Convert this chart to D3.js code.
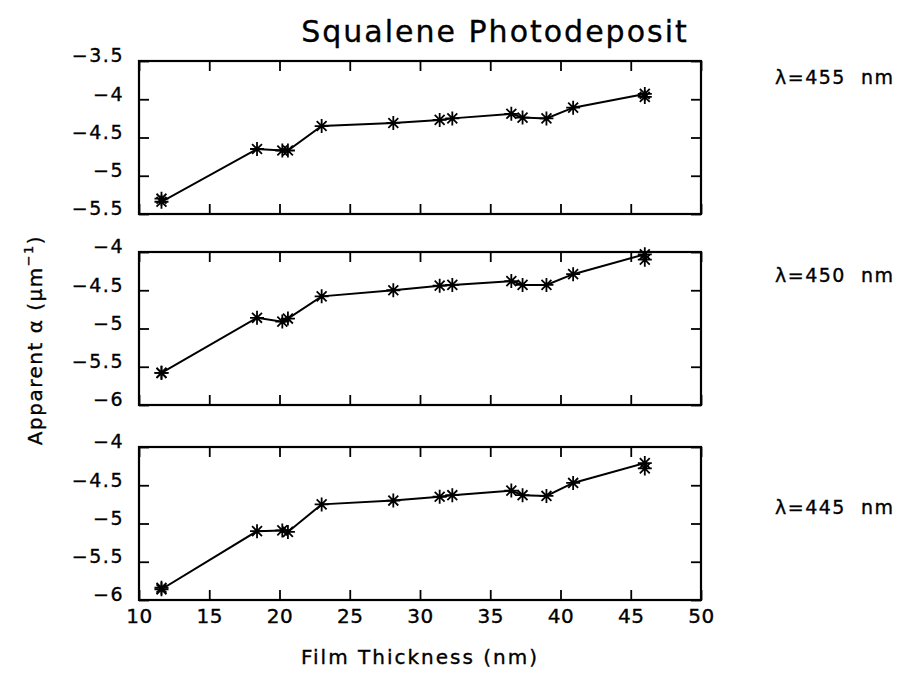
<!DOCTYPE html>
<meta charset="utf-8">
<script src="https://cdn.jsdelivr.net/npm/d3@7/dist/d3.min.js"></script>
<style>
    body { margin: 0; background: white; }
    text { font-family: "DejaVu Sans", sans-serif; fill: black; stroke: black; stroke-width: 0.35px; }
    .tick line { stroke: black; stroke-width: 1.8; }
    .domain { display: none; }
    .trace { fill: none; stroke: black; stroke-width: 2; }
    .star { fill: none; stroke: black; stroke-width: 1.8; }
</style>
<body>
<script>

    // film thickness (nm), shared by all three wavelengths
    var thickness = [11.6, 11.6, 18.4, 20.2, 20.6, 23.0, 28.1, 31.4, 32.3, 36.5, 37.3, 39.0, 40.9, 46.0, 46.0]

    // apparent alpha (um^-1) per wavelength
    var alpha455 = [-5.30, -5.34, -4.65, -4.67, -4.67, -4.35, -4.31, -4.27, -4.25, -4.19, -4.24, -4.25, -4.11, -3.93, -3.97]
    var alpha450 = [-5.58, -5.58, -4.86, -4.91, -4.87, -4.58, -4.50, -4.44, -4.43, -4.38, -4.43, -4.43, -4.29, -4.03, -4.10]
    var alpha445 = [-5.84, -5.86, -5.10, -5.09, -5.11, -4.75, -4.70, -4.65, -4.63, -4.57, -4.63, -4.64, -4.47, -4.21, -4.28]

    var wavelengths = ["λ=455  nm", "λ=450  nm", "λ=445  nm"]
    var xTicks = [10, 15, 20, 25, 30, 35, 40, 45, 50]
    var yTicksTop = [-5.5, -5, -4.5, -4, -3.5]
    var yTicks = [-6, -5.5, -5, -4.5, -4]

    var w = 912, h = 673
    var left = 139, right = 701
    var panelH = 153
    var tops = [61, 252, 447]
    var labelY = [84, 282, 514]

    var panels = [
        {values: alpha455, ticks: yTicksTop, label: wavelengths[0]},
        {values: alpha450, ticks: yTicks, label: wavelengths[1]},
        {values: alpha445, ticks: yTicks, label: wavelengths[2]}
    ]

    var svg = d3.select("body").append("svg").attr("width", w).attr("height", h)

    var x_scale = d3.scaleLinear().domain([10, 50]).range([left, right])
    var fmt = d3.format("~g")

    // 8-armed asterisk marker
    function star(r) {
        var a = r * 0.7071
        return "M" + (-r) + ",0L" + r + ",0M0," + (-r) + "L0," + r +
               "M" + (-a) + "," + (-a) + "L" + a + "," + a +
               "M" + (-a) + "," + a + "L" + a + "," + (-a)
    }

    panels.forEach((p, i) => {
        var top = tops[i]
        var y_scale = d3.scaleLinear().domain(d3.extent(p.ticks)).range([top + panelH, top])
        var g = svg.append("g")

        // inner ticks on all four sides
        var xb = g.append("g").attr("transform", "translate(0," + (top + panelH) + ")")
            .call(d3.axisBottom(x_scale).tickValues(xTicks).tickSize(-10).tickPadding(9).tickFormat(i == 2 ? fmt : ""))
        xb.selectAll("text").style("font-size", "20px").style("letter-spacing", "0.5px").attr("dy", "0.71em")
        g.append("g").attr("transform", "translate(0," + top + ")")
            .call(d3.axisTop(x_scale).tickValues(xTicks).tickSize(-10).tickFormat(""))

        var yl = g.append("g").attr("transform", "translate(" + left + ",0)")
            .call(d3.axisLeft(y_scale).tickValues(p.ticks).tickSize(-10).tickPadding(15).tickFormat(fmt))
        yl.selectAll("text").style("font-size", "19px").style("letter-spacing", "1.5px").attr("dy", "0.05em")
        g.append("g").attr("transform", "translate(" + right + ",0)")
            .call(d3.axisRight(y_scale).tickValues(p.ticks).tickSize(-10).tickFormat(""))

        g.append("rect").attr("x", left).attr("y", top).attr("width", right - left).attr("height", panelH)
            .style("fill", "none").style("stroke", "black").style("stroke-width", 2.2)

        var pts = thickness.map((t, k) => ({x: t, y: p.values[k]}))
        var line = d3.line().x((d) => x_scale(d.x)).y((d) => y_scale(d.y))
        g.append("path").datum(pts).attr("class", "trace").attr("d", line)
        g.selectAll(".star").data(pts).enter().append("path").attr("class", "star")
            .attr("transform", (d) => "translate(" + x_scale(d.x) + "," + y_scale(d.y) + ")")
            .attr("d", star(7))

        svg.append("text").attr("x", 775).attr("y", labelY[i]).text(p.label)
            .style("font-size", "19px").style("letter-spacing", "1.5px").style("white-space", "pre")
    })

    svg.append("text").attr("x", 495).attr("y", 42).attr("text-anchor", "middle")
        .text("Squalene Photodeposit").style("font-size", "30px").style("letter-spacing", "2px")

    svg.append("text").attr("x", 420).attr("y", 664).attr("text-anchor", "middle")
        .text("Film Thickness (nm)").style("font-size", "20px").style("letter-spacing", "2px")

    var ylab = svg.append("text").attr("transform", "translate(42,340) rotate(-90)").attr("text-anchor", "middle")
        .style("font-size", "20px").style("letter-spacing", "1.5px")
    ylab.append("tspan").text("Apparent α (μm")
    ylab.append("tspan").attr("dy", -9).style("font-size", "13px").text("−1")
    ylab.append("tspan").attr("dy", 9).text(")")

</script>
</body>
</html>
